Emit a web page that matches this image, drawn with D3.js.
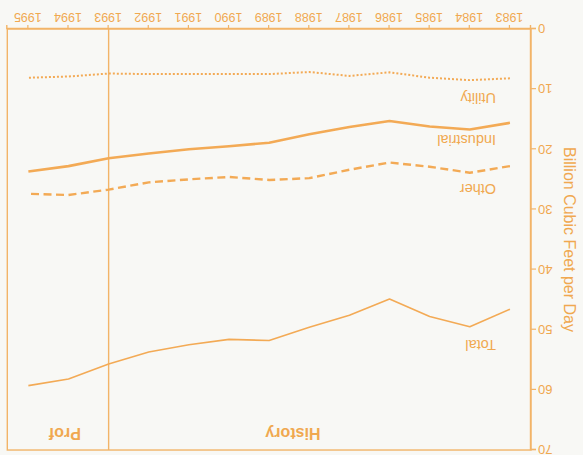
<!DOCTYPE html>
<html>
<head>
<meta charset="utf-8">
<script src="https://cdn.jsdelivr.net/npm/d3@7"></script>
<style>
  html, body { margin: 0; padding: 0; background: #f8f8f5; }
  svg { display: block; }
  text { font-family: "Liberation Sans", Arial, sans-serif; fill: #f0a850; }
</style>
</head>
<body>
<svg id="chart" width="583" height="455"></svg>
<script>
// Natural gas consumption, billion cubic feet per day
const years = [1983, 1984, 1985, 1986, 1987, 1988, 1989, 1990, 1991, 1992, 1993, 1994, 1995];
const utility    = [8.2, 8.5, 8.1, 7.2, 7.8, 7.15, 7.5, 7.5, 7.5, 7.5, 7.4, 7.9, 8.1];
const industrial = [15.6, 16.7, 16.2, 15.3, 16.3, 17.5, 18.9, 19.5, 20.0, 20.7, 21.5, 22.8, 23.7];
const other      = [22.8, 23.9, 22.9, 22.2, 23.4, 24.8, 25.1, 24.6, 25.0, 25.5, 26.7, 27.6, 27.4];
const total      = [46.6, 49.5, 47.8, 44.9, 47.6, 49.6, 51.8, 51.6, 52.5, 53.7, 55.7, 58.2, 59.3];
const yTicks = [0, 10, 20, 30, 40, 50, 60, 70];
const seriesNames = ["Utility", "Industrial", "Other", "Total"];
const seriesValues = [utility, industrial, other, total];
const projectionStart = 1993;
const periodLabels = ["History", "Prof"];

const W = 583, H = 455;
const lineColor = "#f2b468";
const dataColor = "#f3aa55";

const svg = d3.select("#chart");
svg.append("rect").attr("width", W).attr("height", H).attr("fill", "#f8f8f5");

// The whole figure is drawn turned half a revolution
const g = svg.append("g").attr("transform", `rotate(180, ${W / 2}, ${H / 2})`);

const x = d3.scaleLinear().domain([1982.475, 1995.525]).range([52, 575.7]);
const y = d3.scaleLinear().domain([0, 70]).range([426, 4.98]);

// frame
g.append("rect")
  .attr("x", x.range()[0]).attr("y", y(70))
  .attr("width", x.range()[1] - x.range()[0]).attr("height", y(0) - y(70))
  .attr("fill", "none").attr("stroke", lineColor).attr("stroke-width", 1.4);

// projection divider
g.append("line")
  .attr("x1", x(projectionStart)).attr("x2", x(projectionStart))
  .attr("y1", y(0)).attr("y2", y(70))
  .attr("stroke", lineColor).attr("stroke-width", 1.4);

// axes
const yAxis = d3.axisLeft(y).tickValues(yTicks).tickSize(5).tickPadding(2).tickFormat(d3.format("d"));
const yg = g.append("g").attr("transform", `translate(${x.range()[0]},0)`).call(yAxis);
const xAxis = d3.axisBottom(x).tickValues(years).tickSize(4).tickPadding(3).tickFormat(d3.format("d"));
const xg = g.append("g").attr("transform", `translate(0,${y(0)})`).call(xAxis);
[yg, xg].forEach(a => {
  a.select(".domain").attr("stroke", lineColor).attr("stroke-width", 1.4);
  a.selectAll(".tick line").attr("stroke", lineColor).attr("stroke-width", 1.2);
  a.selectAll(".tick text").style("fill", "#f0a850").attr("font-size", 12.5)
    .attr("font-family", "Liberation Sans, Arial, sans-serif");
});
yg.selectAll(".tick text").attr("font-size", 13);

// y title
g.append("text")
  .attr("transform", `translate(15, ${(y(0) + y(70)) / 2}) rotate(-90)`)
  .attr("text-anchor", "middle").attr("dominant-baseline", "middle")
  .attr("font-size", 16).text("Billion Cubic Feet per Day");

// period labels
g.append("text").attr("x", 290).attr("y", 27).attr("text-anchor", "middle")
  .attr("font-size", 16).attr("font-weight", "bold").text(periodLabels[0]);
g.append("text").attr("x", 518).attr("y", 27).attr("text-anchor", "middle")
  .attr("font-size", 16).attr("font-weight", "bold").text(periodLabels[1]);

// series lines
const styles = [
  { w: 2.0, dash: "2,2" },
  { w: 2.6, dash: null },
  { w: 2.4, dash: "8,4.5" },
  { w: 1.6, dash: null }
];
const line = d3.line().x((d, i) => x(years[i])).y(d => y(d));
seriesValues.forEach((vals, k) => {
  g.append("path").datum(vals)
    .attr("d", line)
    .attr("fill", "none")
    .attr("stroke", dataColor)
    .attr("stroke-width", styles[k].w)
    .attr("stroke-dasharray", styles[k].dash)
    .attr("stroke-linejoin", "round");
});

// series labels (baselines)
const labelY = [362.5, 320, 271.5, 115];
seriesNames.forEach((name, k) => {
  g.append("text").attr("x", 87).attr("y", labelY[k])
    .attr("font-size", 14.5).text(name);
});
</script>
</body>
</html>
